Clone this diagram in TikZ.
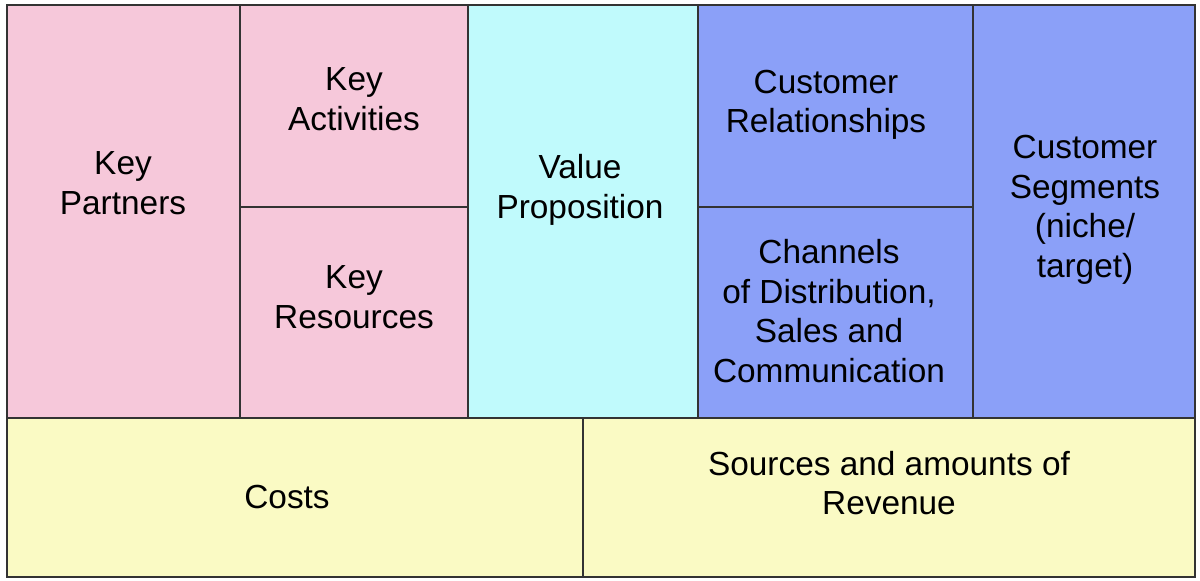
\documentclass[tikz,border=0pt]{standalone}
\usepackage{fontspec}
\setmainfont{Liberation Sans}
\definecolor{keypink}{RGB}{246,200,218}
\definecolor{valuecyan}{RGB}{192,250,252}
\definecolor{custblue}{RGB}{139,160,248}
\definecolor{moneyyellow}{RGB}{250,250,196}
\tikzset{
  block/.style={draw=black!80, line width=1.2pt},
  label/.style={align=center, font=\fontsize{19}{22.5}\selectfont}
}
\begin{document}
\begin{tikzpicture}[x=0.02cm,y=-0.02cm]
  \useasboundingbox (0,0) rectangle (1200,581);
  % -=-=-=-=- BLOCKS -=-=-=-=-
  \draw[block,fill=keypink] (7,5) rectangle (240,418);
  \draw[block,fill=keypink] (240,5) rectangle (468,207);
  \draw[block,fill=keypink] (240,207) rectangle (468,418);
  \draw[block,fill=valuecyan] (468,5) rectangle (698,418);
  \draw[block,fill=custblue] (698,5) rectangle (973,207);
  \draw[block,fill=custblue] (698,207) rectangle (973,418);
  \draw[block,fill=custblue] (973,5) rectangle (1195,418);
  \draw[block,fill=moneyyellow] (7,418) rectangle (583,577);
  \draw[block,fill=moneyyellow] (583,418) rectangle (1195,577);
  % -=-=-=-=- TEXTS -=-=-=-=-
  \node[label] (partners) at (123,183) {Key\\Partners};
  \node[label] (activities) at (354,99) {Key\\Activities};
  \node[label] (resources) at (354,297) {Key\\Resources};
  \node[label] (value) at (580,190) {Value\\Proposition};
  \node[label] (relations) at (826,105) {Customer\\Relationships};
  \node[label] (channels) at (829,311) {Channels\\of Distribution,\\Sales and\\Communication};
  \node[label] (segments) at (1085,210) {Customer\\Segments\\(niche/\\target)};
  \node[label] (costs) at (287,497) {Costs};
  \node[label] (revenue) at (889,483) {Sources and amounts of\\Revenue};
\end{tikzpicture}
\end{document}
